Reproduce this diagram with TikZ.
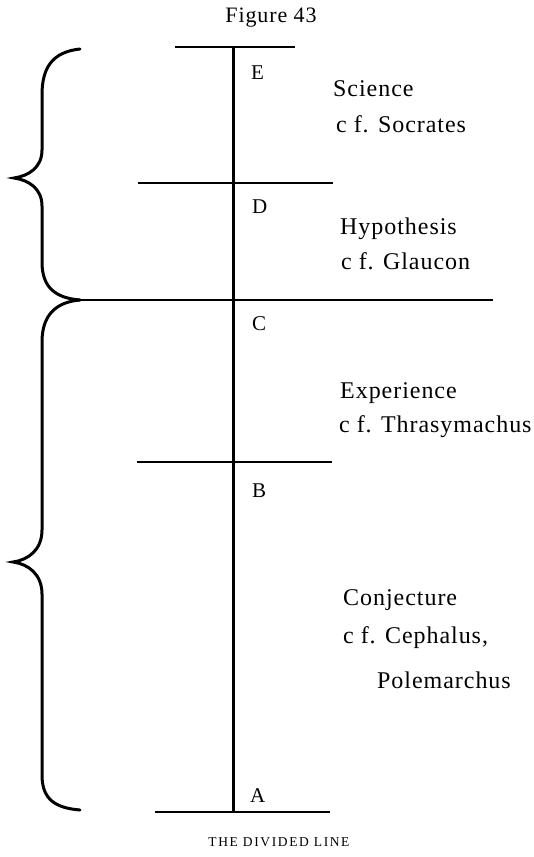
\documentclass[tikz,border=0pt]{standalone}
\usepackage{fontspec}
\setmainfont{Liberation Serif}[LetterSpace=4]
\newfontfamily\capfont{Liberation Serif}[LetterSpace=12]
\begin{document}
\begin{tikzpicture}[x=1pt,y=-1pt,
  lbl/.style={anchor=base west,inner sep=0pt,font=\fontsize{24}{26}\selectfont},
  pt/.style={anchor=base west,inner sep=0pt,font=\fontsize{21}{23}\selectfont},
  divline/.style={line width=2pt},
  mainline/.style={line width=3pt},
  brace/.style={line width=3pt,line cap=round}]
\useasboundingbox (0,0) rectangle (534,857);
% title and caption
\node[anchor=base,inner sep=0pt,font=\fontsize{22}{24}\selectfont] (title) at (271,22) {Figure 43};
\node[anchor=base,inner sep=0pt,font=\capfont\fontsize{13.5}{15}\selectfont] (caption) at (279,846) {THE DIVIDED LINE};
% division coordinates
\coordinate (Ea) at (175,47);  \coordinate (Eb) at (295,47);
\coordinate (Da) at (138,183); \coordinate (Db) at (333,183);
\coordinate (Ca) at (73,300);  \coordinate (Cb) at (493,300);
\coordinate (Ba) at (137,462); \coordinate (Bb) at (332,462);
\coordinate (Aa) at (155,812); \coordinate (Ab) at (330,812);
\coordinate (top) at (233,47); \coordinate (bot) at (233,812);
\draw[mainline] (top) -- (bot);
\draw[divline] (Ea) -- (Eb);
\draw[divline] (Da) -- (Db);
\draw[divline] (Ca) -- (Cb);
\draw[divline] (Ba) -- (Bb);
\draw[divline] (Aa) -- (Ab);
% point letters
\node[pt] (E) at (251,79) {E};
\node[pt] (D) at (252,213) {D};
\node[pt] (C) at (252,330) {C};
\node[pt] (B) at (252,497) {B};
\node[pt] (A) at (250,802) {A};
% section labels
\node[lbl] (sci) at (333,96) {Science};
\node[lbl] (soc) at (336,132) {c f. Socrates};
\node[lbl] (hyp) at (340,234) {Hypothesis};
\node[lbl] (gla) at (341,269) {c f. Glaucon};
\node[lbl] (exp) at (340,398) {Experience};
\node[lbl] (thr) at (339,432) {c f. Thrasymachus};
\node[lbl] (con) at (343,605) {Conjecture};
\node[lbl] (cep) at (343,643) {c f. Cephalus,};
\node[lbl] (pol) at (377,688) {Polemarchus};
% braces
\draw[brace] (80,49) .. controls (52,52) and (42,68) .. (42,95)
  -- (42,150) .. controls (42,168) and (28,176) .. (14,178)
  .. controls (28,180) and (42,188) .. (42,206)
  -- (42,262) .. controls (42,288) and (56,298) .. (80,300);
\draw[brace] (80,300) .. controls (56,302) and (42,315) .. (42,342)
  -- (42,530) .. controls (42,550) and (28,560) .. (13,562)
  .. controls (28,564) and (42,574) .. (42,594)
  -- (42,775) .. controls (42,800) and (56,808) .. (80,810);
\end{tikzpicture}
\end{document}
